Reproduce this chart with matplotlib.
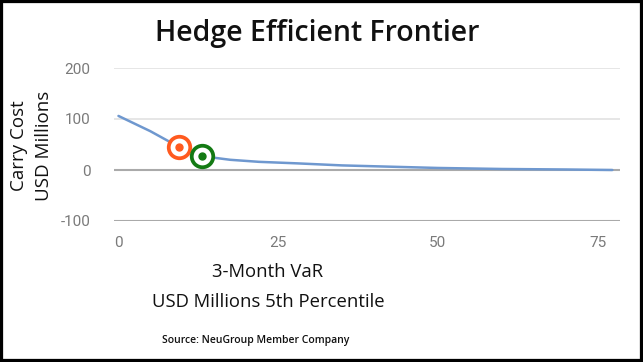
import matplotlib.pyplot as plt
from matplotlib.patches import Rectangle

plt.rcParams['axes.unicode_minus'] = False

# frontier curve (VaR, carry cost)
var_x = [0, 5, 9.5, 13.1, 15, 17.5, 22, 28, 35, 44, 50, 60, 70, 77.3]
carry_y = [106, 76, 45, 27, 24, 20, 16, 13, 9, 6, 4, 2, 1, 0]

# highlighted hedge points
orange_pt = (9.5, 45)
green_pt = (13.1, 27)

x_ticks = [0, 25, 50, 75]
y_ticks = [-100, 0, 100, 200]

fig = plt.figure(figsize=(6.43, 3.62), dpi=100)
ax = fig.add_axes([114 / 643, 1 - 221 / 362, (620 - 114) / 643, (221 - 68) / 362])

ax.plot(var_x, carry_y, color='#6f98cf', lw=1.8, zorder=3, solid_capstyle='round')

ax.plot(*orange_pt, 'o', ms=15.5, mfc='white', mec='#ff5a1f', mew=2.7, zorder=4)
ax.plot(*orange_pt, 'o', ms=5, color='#ff5a1f', zorder=5)
ax.plot(*green_pt, 'o', ms=15.5, mfc='white', mec='#137a13', mew=2.7, zorder=4)
ax.plot(*green_pt, 'o', ms=5, color='#137a13', zorder=5)

ax.set_xlim(-0.7, 78.5)
ax.set_ylim(-100, 200)
ax.set_xticks(x_ticks)
ax.set_yticks(y_ticks)
ax.axhline(200, color='#e6e6e6', lw=1.4, zorder=1)
ax.axhline(100, color='#e6e6e6', lw=1.4, zorder=1)
ax.axhline(0, color='#aaaaaa', lw=1.5, zorder=2)
ax.axhline(-100, color='#aaaaaa', lw=1.5, zorder=2)
for s in ax.spines.values():
    s.set_visible(False)
ax.tick_params(length=0, labelsize=11, labelcolor='#7a7a7a')
ax.tick_params(axis='y', pad=17)
ax.tick_params(axis='x', pad=11)
for lab in ax.get_xticklabels() + ax.get_yticklabels():
    lab.set_family('Roboto')

fig.text(317 / 643, 1 - 33 / 362, 'Hedge Efficient Frontier', family='Open Sans',
         fontsize=20.5, weight='semibold', ha='center', va='center', color='#111111')
fig.text(268 / 643, 1 - 272 / 362, '3-Month VaR', family='Open Sans',
         fontsize=13.3, weight='medium', ha='center', va='center', color='#111111')
fig.text(268 / 643, 1 - 302 / 362, 'USD Millions 5th Percentile', family='Open Sans',
         fontsize=13.3, weight='medium', ha='center', va='center', color='#111111')
fig.text(19 / 643, 1 - 146 / 362, 'Carry Cost', family='Open Sans', rotation=90,
         fontsize=13.5, weight='medium', ha='center', va='center', color='#111111')
fig.text(44 / 643, 1 - 146 / 362, 'USD Millions', family='Open Sans', rotation=90,
         fontsize=13.5, weight='medium', ha='center', va='center', color='#111111')
fig.text(256 / 643, 1 - 340 / 362, 'Source: NeuGroup Member Company', family='Open Sans',
         fontsize=7.5, weight='semibold', ha='center', va='center', color='#111111')

fig.patches.append(Rectangle((0, 0), 1, 1, transform=fig.transFigure, fill=False,
                             edgecolor='black', lw=4.5))

fig.savefig('out.png', dpi=100)
